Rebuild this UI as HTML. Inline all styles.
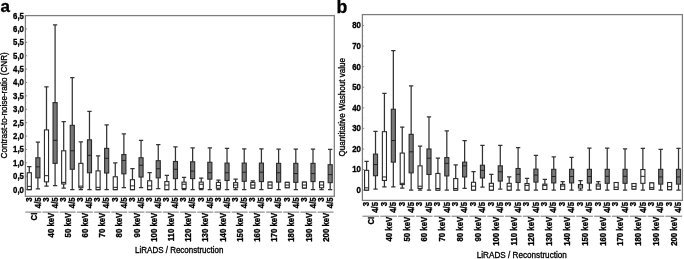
<!DOCTYPE html>
<html><head><meta charset="utf-8"><title>Figure</title>
<style>html,body{margin:0;padding:0;background:#fff}svg{display:block}text{font-family:"Liberation Sans",sans-serif;fill:#000;stroke:#000;stroke-width:.3px}.b{font-size:7.8px;font-weight:bold}.t{font-size:8px}.p{font-size:17px;font-weight:bold}</style></head>
<body>
<svg width="684" height="259" viewBox="0 0 684 259">
<rect width="684" height="259" fill="#ffffff"/>
<text x="0.6" y="12.4" class="p">a</text>
<text x="336.6" y="12.5" class="p" style="font-size:17.7px">b</text>
<rect x="25.40" y="15.60" width="308.90" height="180.70" fill="none" stroke="#7c7c7c" stroke-width="1.25"/>
<line x1="25.40" x2="27.20" y1="189.61" y2="189.61" stroke="#808080" stroke-width="0.9"/>
<text transform="translate(23.90,192.51) scale(1,1.14)" text-anchor="end" class="b">0,0</text>
<line x1="25.40" x2="26.20" y1="182.91" y2="182.91" stroke="#808080" stroke-width="0.9"/>
<line x1="25.40" x2="27.20" y1="176.22" y2="176.22" stroke="#808080" stroke-width="0.9"/>
<text transform="translate(23.90,179.12) scale(1,1.14)" text-anchor="end" class="b">0,5</text>
<line x1="25.40" x2="26.20" y1="169.53" y2="169.53" stroke="#808080" stroke-width="0.9"/>
<line x1="25.40" x2="27.20" y1="162.84" y2="162.84" stroke="#808080" stroke-width="0.9"/>
<text transform="translate(23.90,165.74) scale(1,1.14)" text-anchor="end" class="b">1,0</text>
<line x1="25.40" x2="26.20" y1="156.14" y2="156.14" stroke="#808080" stroke-width="0.9"/>
<line x1="25.40" x2="27.20" y1="149.45" y2="149.45" stroke="#808080" stroke-width="0.9"/>
<text transform="translate(23.90,152.35) scale(1,1.14)" text-anchor="end" class="b">1,5</text>
<line x1="25.40" x2="26.20" y1="142.76" y2="142.76" stroke="#808080" stroke-width="0.9"/>
<line x1="25.40" x2="27.20" y1="136.07" y2="136.07" stroke="#808080" stroke-width="0.9"/>
<text transform="translate(23.90,138.97) scale(1,1.14)" text-anchor="end" class="b">2,0</text>
<line x1="25.40" x2="26.20" y1="129.37" y2="129.37" stroke="#808080" stroke-width="0.9"/>
<line x1="25.40" x2="27.20" y1="122.68" y2="122.68" stroke="#808080" stroke-width="0.9"/>
<text transform="translate(23.90,125.58) scale(1,1.14)" text-anchor="end" class="b">2,5</text>
<line x1="25.40" x2="26.20" y1="115.99" y2="115.99" stroke="#808080" stroke-width="0.9"/>
<line x1="25.40" x2="27.20" y1="109.30" y2="109.30" stroke="#808080" stroke-width="0.9"/>
<text transform="translate(23.90,112.20) scale(1,1.14)" text-anchor="end" class="b">3,0</text>
<line x1="25.40" x2="26.20" y1="102.60" y2="102.60" stroke="#808080" stroke-width="0.9"/>
<line x1="25.40" x2="27.20" y1="95.91" y2="95.91" stroke="#808080" stroke-width="0.9"/>
<text transform="translate(23.90,98.81) scale(1,1.14)" text-anchor="end" class="b">3,5</text>
<line x1="25.40" x2="26.20" y1="89.22" y2="89.22" stroke="#808080" stroke-width="0.9"/>
<line x1="25.40" x2="27.20" y1="82.53" y2="82.53" stroke="#808080" stroke-width="0.9"/>
<text transform="translate(23.90,85.43) scale(1,1.14)" text-anchor="end" class="b">4,0</text>
<line x1="25.40" x2="26.20" y1="75.83" y2="75.83" stroke="#808080" stroke-width="0.9"/>
<line x1="25.40" x2="27.20" y1="69.14" y2="69.14" stroke="#808080" stroke-width="0.9"/>
<text transform="translate(23.90,72.04) scale(1,1.14)" text-anchor="end" class="b">4,5</text>
<line x1="25.40" x2="26.20" y1="62.45" y2="62.45" stroke="#808080" stroke-width="0.9"/>
<line x1="25.40" x2="27.20" y1="55.76" y2="55.76" stroke="#808080" stroke-width="0.9"/>
<text transform="translate(23.90,58.66) scale(1,1.14)" text-anchor="end" class="b">5,0</text>
<line x1="25.40" x2="26.20" y1="49.06" y2="49.06" stroke="#808080" stroke-width="0.9"/>
<line x1="25.40" x2="27.20" y1="42.37" y2="42.37" stroke="#808080" stroke-width="0.9"/>
<text transform="translate(23.90,45.27) scale(1,1.14)" text-anchor="end" class="b">5,5</text>
<line x1="25.40" x2="26.20" y1="35.68" y2="35.68" stroke="#808080" stroke-width="0.9"/>
<line x1="25.40" x2="27.20" y1="28.99" y2="28.99" stroke="#808080" stroke-width="0.9"/>
<text transform="translate(23.90,31.89) scale(1,1.14)" text-anchor="end" class="b">6,0</text>
<line x1="25.40" x2="26.20" y1="22.29" y2="22.29" stroke="#808080" stroke-width="0.9"/>
<line x1="25.40" x2="27.20" y1="15.60" y2="15.60" stroke="#808080" stroke-width="0.9"/>
<text transform="translate(23.90,18.50) scale(1,1.14)" text-anchor="end" class="b">6,5</text>
<path d="M29.30 166.72V172.74M29.30 189.61V189.61M27.15 166.72H31.45M27.15 189.61H31.45" stroke="#333333" stroke-width="1.25" fill="none"/>
<rect x="27.25" y="172.74" width="4.10" height="16.87" fill="#ffffff" stroke="#2a2a2a" stroke-width="1.1"/>
<line x1="27.25" x2="31.35" y1="186.39" y2="186.39" stroke="#222" stroke-width="1"/>
<text transform="translate(31.60,197.30) rotate(-90) scale(1,1.1)" text-anchor="end" class="b">3</text>
<path d="M37.90 142.22V157.75M37.90 177.83V188.80M35.75 142.22H40.05M35.75 188.80H40.05" stroke="#333333" stroke-width="1.25" fill="none"/>
<rect x="35.85" y="157.75" width="4.10" height="20.08" fill="#787878" stroke="#2a2a2a" stroke-width="1.1"/>
<line x1="35.85" x2="39.95" y1="166.85" y2="166.85" stroke="#222" stroke-width="1"/>
<text transform="translate(40.60,197.30) rotate(-90) scale(1,1.1)" text-anchor="end" class="b">4/5</text>
<path d="M46.49 86.81V129.91M46.49 181.84V186.13M44.34 86.81H48.64M44.34 186.13H48.64" stroke="#333333" stroke-width="1.25" fill="none"/>
<rect x="44.44" y="129.91" width="4.10" height="51.93" fill="#ffffff" stroke="#2a2a2a" stroke-width="1.1"/>
<line x1="44.44" x2="48.54" y1="175.69" y2="175.69" stroke="#222" stroke-width="1"/>
<text transform="translate(48.79,197.30) rotate(-90) scale(1,1.1)" text-anchor="end" class="b">3</text>
<path d="M55.09 24.97V102.60M55.09 163.37V185.59M52.94 24.97H57.24M52.94 185.59H57.24" stroke="#333333" stroke-width="1.25" fill="none"/>
<rect x="53.04" y="102.60" width="4.10" height="60.77" fill="#787878" stroke="#2a2a2a" stroke-width="1.1"/>
<line x1="53.04" x2="57.14" y1="140.35" y2="140.35" stroke="#222" stroke-width="1"/>
<text transform="translate(57.79,197.30) rotate(-90) scale(1,1.1)" text-anchor="end" class="b">4/5</text>
<path d="M63.69 121.61V150.79M63.69 183.99V188.00M61.54 121.61H65.84M61.54 188.00H65.84" stroke="#333333" stroke-width="1.25" fill="none"/>
<rect x="61.64" y="150.79" width="4.10" height="33.20" fill="#ffffff" stroke="#2a2a2a" stroke-width="1.1"/>
<line x1="61.64" x2="65.74" y1="182.38" y2="182.38" stroke="#222" stroke-width="1"/>
<text transform="translate(65.99,197.30) rotate(-90) scale(1,1.1)" text-anchor="end" class="b">3</text>
<path d="M72.28 77.71V125.36M72.28 169.26V189.61M70.13 77.71H74.44M70.13 189.61H74.44" stroke="#333333" stroke-width="1.25" fill="none"/>
<rect x="70.23" y="125.36" width="4.10" height="43.90" fill="#787878" stroke="#2a2a2a" stroke-width="1.1"/>
<line x1="70.23" x2="74.33" y1="150.79" y2="150.79" stroke="#222" stroke-width="1"/>
<text transform="translate(74.98,197.30) rotate(-90) scale(1,1.1)" text-anchor="end" class="b">4/5</text>
<path d="M80.88 141.96V163.37M80.88 187.73V189.61M78.73 141.96H83.03M78.73 189.61H83.03" stroke="#333333" stroke-width="1.25" fill="none"/>
<rect x="78.83" y="163.37" width="4.10" height="24.36" fill="#ffffff" stroke="#2a2a2a" stroke-width="1.1"/>
<line x1="78.83" x2="82.93" y1="186.13" y2="186.13" stroke="#222" stroke-width="1"/>
<text transform="translate(83.18,197.30) rotate(-90) scale(1,1.1)" text-anchor="end" class="b">3</text>
<path d="M89.48 111.44V139.81M89.48 172.74V189.61M87.33 111.44H91.63M87.33 189.61H91.63" stroke="#333333" stroke-width="1.25" fill="none"/>
<rect x="87.43" y="139.81" width="4.10" height="32.93" fill="#787878" stroke="#2a2a2a" stroke-width="1.1"/>
<line x1="87.43" x2="91.53" y1="155.34" y2="155.34" stroke="#222" stroke-width="1"/>
<text transform="translate(92.18,197.30) rotate(-90) scale(1,1.1)" text-anchor="end" class="b">4/5</text>
<path d="M98.08 155.88V170.87M98.08 189.61V189.61M95.93 155.88H100.23M95.93 189.61H100.23" stroke="#333333" stroke-width="1.25" fill="none"/>
<rect x="96.03" y="170.87" width="4.10" height="18.74" fill="#ffffff" stroke="#2a2a2a" stroke-width="1.1"/>
<line x1="96.03" x2="100.13" y1="187.33" y2="187.33" stroke="#222" stroke-width="1"/>
<text transform="translate(100.38,197.30) rotate(-90) scale(1,1.1)" text-anchor="end" class="b">3</text>
<path d="M106.67 124.82V148.38M106.67 173.01V189.61M104.52 124.82H108.82M104.52 189.61H108.82" stroke="#333333" stroke-width="1.25" fill="none"/>
<rect x="104.62" y="148.38" width="4.10" height="24.63" fill="#787878" stroke="#2a2a2a" stroke-width="1.1"/>
<line x1="104.62" x2="108.72" y1="158.29" y2="158.29" stroke="#222" stroke-width="1"/>
<text transform="translate(109.37,197.30) rotate(-90) scale(1,1.1)" text-anchor="end" class="b">4/5</text>
<path d="M115.27 162.84V176.76M115.27 189.61V189.61M113.12 162.84H117.42M113.12 189.61H117.42" stroke="#333333" stroke-width="1.25" fill="none"/>
<rect x="113.22" y="176.76" width="4.10" height="12.85" fill="#ffffff" stroke="#2a2a2a" stroke-width="1.1"/>
<line x1="113.22" x2="117.32" y1="187.33" y2="187.33" stroke="#222" stroke-width="1"/>
<text transform="translate(117.57,197.30) rotate(-90) scale(1,1.1)" text-anchor="end" class="b">3</text>
<path d="M123.87 133.93V154.54M123.87 173.81V187.73M121.72 133.93H126.02M121.72 187.73H126.02" stroke="#333333" stroke-width="1.25" fill="none"/>
<rect x="121.82" y="154.54" width="4.10" height="19.27" fill="#787878" stroke="#2a2a2a" stroke-width="1.1"/>
<line x1="121.82" x2="125.92" y1="160.43" y2="160.43" stroke="#222" stroke-width="1"/>
<text transform="translate(126.57,197.30) rotate(-90) scale(1,1.1)" text-anchor="end" class="b">4/5</text>
<path d="M132.46 168.73V179.70M132.46 189.61V189.61M130.31 168.73H134.61M130.31 189.61H134.61" stroke="#333333" stroke-width="1.25" fill="none"/>
<rect x="130.41" y="179.70" width="4.10" height="9.91" fill="#ffffff" stroke="#2a2a2a" stroke-width="1.1"/>
<line x1="130.41" x2="134.51" y1="185.86" y2="185.86" stroke="#222" stroke-width="1"/>
<text transform="translate(134.76,197.30) rotate(-90) scale(1,1.1)" text-anchor="end" class="b">3</text>
<path d="M141.06 140.35V157.75M141.06 177.03V187.73M138.91 140.35H143.21M138.91 187.73H143.21" stroke="#333333" stroke-width="1.25" fill="none"/>
<rect x="139.01" y="157.75" width="4.10" height="19.27" fill="#787878" stroke="#2a2a2a" stroke-width="1.1"/>
<line x1="139.01" x2="143.11" y1="165.25" y2="165.25" stroke="#222" stroke-width="1"/>
<text transform="translate(143.76,197.30) rotate(-90) scale(1,1.1)" text-anchor="end" class="b">4/5</text>
<path d="M149.66 172.74V180.77M149.66 189.61V189.61M147.51 172.74H151.81M147.51 189.61H151.81" stroke="#333333" stroke-width="1.25" fill="none"/>
<rect x="147.61" y="180.77" width="4.10" height="8.83" fill="#ffffff" stroke="#2a2a2a" stroke-width="1.1"/>
<line x1="147.61" x2="151.71" y1="185.86" y2="185.86" stroke="#222" stroke-width="1"/>
<text transform="translate(151.96,197.30) rotate(-90) scale(1,1.1)" text-anchor="end" class="b">3</text>
<path d="M158.25 144.63V160.70M158.25 177.83V188.54M156.10 144.63H160.41M156.10 188.54H160.41" stroke="#333333" stroke-width="1.25" fill="none"/>
<rect x="156.20" y="160.70" width="4.10" height="17.13" fill="#787878" stroke="#2a2a2a" stroke-width="1.1"/>
<line x1="156.20" x2="160.31" y1="168.73" y2="168.73" stroke="#222" stroke-width="1"/>
<text transform="translate(160.95,197.30) rotate(-90) scale(1,1.1)" text-anchor="end" class="b">4/5</text>
<path d="M166.85 175.42V181.58M166.85 189.61V189.61M164.70 175.42H169.00M164.70 189.61H169.00" stroke="#333333" stroke-width="1.25" fill="none"/>
<rect x="164.80" y="181.58" width="4.10" height="8.03" fill="#ffffff" stroke="#2a2a2a" stroke-width="1.1"/>
<line x1="164.80" x2="168.90" y1="185.06" y2="185.06" stroke="#222" stroke-width="1"/>
<text transform="translate(169.15,197.30) rotate(-90) scale(1,1.1)" text-anchor="end" class="b">3</text>
<path d="M175.45 146.77V161.50M175.45 178.63V189.61M173.30 146.77H177.60M173.30 189.61H177.60" stroke="#333333" stroke-width="1.25" fill="none"/>
<rect x="173.40" y="161.50" width="4.10" height="17.13" fill="#787878" stroke="#2a2a2a" stroke-width="1.1"/>
<line x1="173.40" x2="177.50" y1="169.26" y2="169.26" stroke="#222" stroke-width="1"/>
<text transform="translate(178.15,197.30) rotate(-90) scale(1,1.1)" text-anchor="end" class="b">4/5</text>
<path d="M184.05 177.29V182.11M184.05 188.54V189.61M181.90 177.29H186.20M181.90 189.61H186.20" stroke="#333333" stroke-width="1.25" fill="none"/>
<rect x="182.00" y="182.11" width="4.10" height="6.42" fill="#ffffff" stroke="#2a2a2a" stroke-width="1.1"/>
<line x1="182.00" x2="186.10" y1="184.25" y2="184.25" stroke="#222" stroke-width="1"/>
<text transform="translate(186.35,197.30) rotate(-90) scale(1,1.1)" text-anchor="end" class="b">3</text>
<path d="M192.64 147.85V161.77M192.64 178.63V189.61M190.49 147.85H194.79M190.49 189.61H194.79" stroke="#333333" stroke-width="1.25" fill="none"/>
<rect x="190.59" y="161.77" width="4.10" height="16.87" fill="#787878" stroke="#2a2a2a" stroke-width="1.1"/>
<line x1="190.59" x2="194.69" y1="171.14" y2="171.14" stroke="#222" stroke-width="1"/>
<text transform="translate(195.34,197.30) rotate(-90) scale(1,1.1)" text-anchor="end" class="b">4/5</text>
<path d="M201.24 178.10V182.11M201.24 188.54V189.61M199.09 178.10H203.39M199.09 189.61H203.39" stroke="#333333" stroke-width="1.25" fill="none"/>
<rect x="199.19" y="182.11" width="4.10" height="6.42" fill="#ffffff" stroke="#2a2a2a" stroke-width="1.1"/>
<line x1="199.19" x2="203.29" y1="184.25" y2="184.25" stroke="#222" stroke-width="1"/>
<text transform="translate(203.54,197.30) rotate(-90) scale(1,1.1)" text-anchor="end" class="b">3</text>
<path d="M209.84 147.85V162.30M209.84 179.17V189.61M207.69 147.85H211.99M207.69 189.61H211.99" stroke="#333333" stroke-width="1.25" fill="none"/>
<rect x="207.79" y="162.30" width="4.10" height="16.87" fill="#787878" stroke="#2a2a2a" stroke-width="1.1"/>
<line x1="207.79" x2="211.89" y1="172.74" y2="172.74" stroke="#222" stroke-width="1"/>
<text transform="translate(212.54,197.30) rotate(-90) scale(1,1.1)" text-anchor="end" class="b">4/5</text>
<path d="M218.43 180.24V182.38M218.43 188.27V189.61M216.28 180.24H220.58M216.28 189.61H220.58" stroke="#333333" stroke-width="1.25" fill="none"/>
<rect x="216.38" y="182.38" width="4.10" height="5.89" fill="#ffffff" stroke="#2a2a2a" stroke-width="1.1"/>
<line x1="216.38" x2="220.48" y1="185.59" y2="185.59" stroke="#222" stroke-width="1"/>
<text transform="translate(220.73,197.30) rotate(-90) scale(1,1.1)" text-anchor="end" class="b">3</text>
<path d="M227.03 148.38V163.10M227.03 180.51V189.61M224.88 148.38H229.18M224.88 189.61H229.18" stroke="#333333" stroke-width="1.25" fill="none"/>
<rect x="224.98" y="163.10" width="4.10" height="17.40" fill="#787878" stroke="#2a2a2a" stroke-width="1.1"/>
<line x1="224.98" x2="229.08" y1="172.74" y2="172.74" stroke="#222" stroke-width="1"/>
<text transform="translate(229.73,197.30) rotate(-90) scale(1,1.1)" text-anchor="end" class="b">4/5</text>
<path d="M235.63 179.17V182.65M235.63 187.73V189.61M233.48 179.17H237.78M233.48 189.61H237.78" stroke="#333333" stroke-width="1.25" fill="none"/>
<rect x="233.58" y="182.65" width="4.10" height="5.09" fill="#ffffff" stroke="#2a2a2a" stroke-width="1.1"/>
<line x1="233.58" x2="237.68" y1="185.06" y2="185.06" stroke="#222" stroke-width="1"/>
<text transform="translate(237.93,197.30) rotate(-90) scale(1,1.1)" text-anchor="end" class="b">3</text>
<path d="M244.22 148.92V163.10M244.22 181.31V189.61M242.07 148.92H246.38M242.07 189.61H246.38" stroke="#333333" stroke-width="1.25" fill="none"/>
<rect x="242.17" y="163.10" width="4.10" height="18.20" fill="#787878" stroke="#2a2a2a" stroke-width="1.1"/>
<line x1="242.17" x2="246.28" y1="172.21" y2="172.21" stroke="#222" stroke-width="1"/>
<text transform="translate(246.92,197.30) rotate(-90) scale(1,1.1)" text-anchor="end" class="b">4/5</text>
<path d="M252.82 180.77V182.38M252.82 188.00V188.00M250.67 180.77H254.97M250.67 188.00H254.97" stroke="#333333" stroke-width="1.25" fill="none"/>
<rect x="250.77" y="182.38" width="4.10" height="5.62" fill="#ffffff" stroke="#2a2a2a" stroke-width="1.1"/>
<line x1="250.77" x2="254.87" y1="185.06" y2="185.06" stroke="#222" stroke-width="1"/>
<text transform="translate(255.12,197.30) rotate(-90) scale(1,1.1)" text-anchor="end" class="b">3</text>
<path d="M261.42 148.92V163.10M261.42 181.58V189.61M259.27 148.92H263.57M259.27 189.61H263.57" stroke="#333333" stroke-width="1.25" fill="none"/>
<rect x="259.37" y="163.10" width="4.10" height="18.47" fill="#787878" stroke="#2a2a2a" stroke-width="1.1"/>
<line x1="259.37" x2="263.47" y1="172.21" y2="172.21" stroke="#222" stroke-width="1"/>
<text transform="translate(264.12,197.30) rotate(-90) scale(1,1.1)" text-anchor="end" class="b">4/5</text>
<path d="M270.02 182.11V182.11M270.02 188.27V188.27M267.87 182.11H272.17M267.87 188.27H272.17" stroke="#333333" stroke-width="1.25" fill="none"/>
<rect x="267.97" y="182.11" width="4.10" height="6.16" fill="#ffffff" stroke="#2a2a2a" stroke-width="1.1"/>
<line x1="267.97" x2="272.07" y1="185.06" y2="185.06" stroke="#222" stroke-width="1"/>
<text transform="translate(272.32,197.30) rotate(-90) scale(1,1.1)" text-anchor="end" class="b">3</text>
<path d="M278.61 149.18V163.37M278.61 182.11V189.61M276.46 149.18H280.76M276.46 189.61H280.76" stroke="#333333" stroke-width="1.25" fill="none"/>
<rect x="276.56" y="163.37" width="4.10" height="18.74" fill="#787878" stroke="#2a2a2a" stroke-width="1.1"/>
<line x1="276.56" x2="280.66" y1="172.74" y2="172.74" stroke="#222" stroke-width="1"/>
<text transform="translate(281.31,197.30) rotate(-90) scale(1,1.1)" text-anchor="end" class="b">4/5</text>
<path d="M287.21 182.38V182.38M287.21 187.73V187.73M285.06 182.38H289.36M285.06 187.73H289.36" stroke="#333333" stroke-width="1.25" fill="none"/>
<rect x="285.16" y="182.38" width="4.10" height="5.35" fill="#ffffff" stroke="#2a2a2a" stroke-width="1.1"/>
<line x1="285.16" x2="289.26" y1="185.06" y2="185.06" stroke="#222" stroke-width="1"/>
<text transform="translate(289.51,197.30) rotate(-90) scale(1,1.1)" text-anchor="end" class="b">3</text>
<path d="M295.81 149.18V163.37M295.81 182.38V189.61M293.66 149.18H297.96M293.66 189.61H297.96" stroke="#333333" stroke-width="1.25" fill="none"/>
<rect x="293.76" y="163.37" width="4.10" height="19.01" fill="#787878" stroke="#2a2a2a" stroke-width="1.1"/>
<line x1="293.76" x2="297.86" y1="173.55" y2="173.55" stroke="#222" stroke-width="1"/>
<text transform="translate(298.51,197.30) rotate(-90) scale(1,1.1)" text-anchor="end" class="b">4/5</text>
<path d="M304.40 182.11V182.11M304.40 188.00V188.00M302.25 182.11H306.55M302.25 188.00H306.55" stroke="#333333" stroke-width="1.25" fill="none"/>
<rect x="302.35" y="182.11" width="4.10" height="5.89" fill="#ffffff" stroke="#2a2a2a" stroke-width="1.1"/>
<line x1="302.35" x2="306.45" y1="185.06" y2="185.06" stroke="#222" stroke-width="1"/>
<text transform="translate(306.70,197.30) rotate(-90) scale(1,1.1)" text-anchor="end" class="b">3</text>
<path d="M313.00 149.18V163.37M313.00 181.58V189.61M310.85 149.18H315.15M310.85 189.61H315.15" stroke="#333333" stroke-width="1.25" fill="none"/>
<rect x="310.95" y="163.37" width="4.10" height="18.20" fill="#787878" stroke="#2a2a2a" stroke-width="1.1"/>
<line x1="310.95" x2="315.05" y1="173.55" y2="173.55" stroke="#222" stroke-width="1"/>
<text transform="translate(315.70,197.30) rotate(-90) scale(1,1.1)" text-anchor="end" class="b">4/5</text>
<path d="M321.60 181.84V181.84M321.60 187.73V189.61M319.45 181.84H323.75M319.45 189.61H323.75" stroke="#333333" stroke-width="1.25" fill="none"/>
<rect x="319.55" y="181.84" width="4.10" height="5.89" fill="#ffffff" stroke="#2a2a2a" stroke-width="1.1"/>
<line x1="319.55" x2="323.65" y1="185.06" y2="185.06" stroke="#222" stroke-width="1"/>
<text transform="translate(323.90,197.30) rotate(-90) scale(1,1.1)" text-anchor="end" class="b">3</text>
<path d="M330.19 149.45V164.71M330.19 182.65V189.61M328.05 149.45H332.34M328.05 189.61H332.34" stroke="#333333" stroke-width="1.25" fill="none"/>
<rect x="328.14" y="164.71" width="4.10" height="17.94" fill="#787878" stroke="#2a2a2a" stroke-width="1.1"/>
<line x1="328.14" x2="332.25" y1="174.62" y2="174.62" stroke="#222" stroke-width="1"/>
<text transform="translate(332.89,197.30) rotate(-90) scale(1,1.1)" text-anchor="end" class="b">4/5</text>
<line x1="25.30" x2="41.30" y1="212.10" y2="212.10" stroke="#666" stroke-width="0.9"/>
<text transform="translate(36.50,212.70) rotate(-90) scale(1,1.1)" text-anchor="end" class="b">CI</text>
<line x1="42.50" x2="58.49" y1="212.10" y2="212.10" stroke="#666" stroke-width="0.9"/>
<text transform="translate(53.69,212.70) rotate(-90) scale(1,1.1)" text-anchor="end" class="b">40 keV</text>
<line x1="59.69" x2="75.68" y1="212.10" y2="212.10" stroke="#666" stroke-width="0.9"/>
<text transform="translate(70.89,212.70) rotate(-90) scale(1,1.1)" text-anchor="end" class="b">50 keV</text>
<line x1="76.88" x2="92.88" y1="212.10" y2="212.10" stroke="#666" stroke-width="0.9"/>
<text transform="translate(88.08,212.70) rotate(-90) scale(1,1.1)" text-anchor="end" class="b">60 keV</text>
<line x1="94.08" x2="110.07" y1="212.10" y2="212.10" stroke="#666" stroke-width="0.9"/>
<text transform="translate(105.27,212.70) rotate(-90) scale(1,1.1)" text-anchor="end" class="b">70 keV</text>
<line x1="111.27" x2="127.27" y1="212.10" y2="212.10" stroke="#666" stroke-width="0.9"/>
<text transform="translate(122.47,212.70) rotate(-90) scale(1,1.1)" text-anchor="end" class="b">80 keV</text>
<line x1="128.47" x2="144.46" y1="212.10" y2="212.10" stroke="#666" stroke-width="0.9"/>
<text transform="translate(139.66,212.70) rotate(-90) scale(1,1.1)" text-anchor="end" class="b">90 keV</text>
<line x1="145.66" x2="161.65" y1="212.10" y2="212.10" stroke="#666" stroke-width="0.9"/>
<text transform="translate(156.86,212.70) rotate(-90) scale(1,1.1)" text-anchor="end" class="b">100 keV</text>
<line x1="162.85" x2="178.85" y1="212.10" y2="212.10" stroke="#666" stroke-width="0.9"/>
<text transform="translate(174.05,212.70) rotate(-90) scale(1,1.1)" text-anchor="end" class="b">110 keV</text>
<line x1="180.05" x2="196.04" y1="212.10" y2="212.10" stroke="#666" stroke-width="0.9"/>
<text transform="translate(191.24,212.70) rotate(-90) scale(1,1.1)" text-anchor="end" class="b">120 keV</text>
<line x1="197.24" x2="213.24" y1="212.10" y2="212.10" stroke="#666" stroke-width="0.9"/>
<text transform="translate(208.44,212.70) rotate(-90) scale(1,1.1)" text-anchor="end" class="b">130 keV</text>
<line x1="214.44" x2="230.43" y1="212.10" y2="212.10" stroke="#666" stroke-width="0.9"/>
<text transform="translate(225.63,212.70) rotate(-90) scale(1,1.1)" text-anchor="end" class="b">140 keV</text>
<line x1="231.63" x2="247.62" y1="212.10" y2="212.10" stroke="#666" stroke-width="0.9"/>
<text transform="translate(242.83,212.70) rotate(-90) scale(1,1.1)" text-anchor="end" class="b">150 keV</text>
<line x1="248.82" x2="264.82" y1="212.10" y2="212.10" stroke="#666" stroke-width="0.9"/>
<text transform="translate(260.02,212.70) rotate(-90) scale(1,1.1)" text-anchor="end" class="b">160 keV</text>
<line x1="266.02" x2="282.01" y1="212.10" y2="212.10" stroke="#666" stroke-width="0.9"/>
<text transform="translate(277.21,212.70) rotate(-90) scale(1,1.1)" text-anchor="end" class="b">170 keV</text>
<line x1="283.21" x2="299.21" y1="212.10" y2="212.10" stroke="#666" stroke-width="0.9"/>
<text transform="translate(294.41,212.70) rotate(-90) scale(1,1.1)" text-anchor="end" class="b">180 keV</text>
<line x1="300.41" x2="316.40" y1="212.10" y2="212.10" stroke="#666" stroke-width="0.9"/>
<text transform="translate(311.60,212.70) rotate(-90) scale(1,1.1)" text-anchor="end" class="b">190 keV</text>
<line x1="317.60" x2="333.59" y1="212.10" y2="212.10" stroke="#666" stroke-width="0.9"/>
<text transform="translate(328.80,212.70) rotate(-90) scale(1,1.1)" text-anchor="end" class="b">200 keV</text>
<text transform="translate(179.25,252.50) scale(1,1.18)" text-anchor="middle" class="t" style="font-size:8.0px">LiRADS / Reconstruction</text>
<text transform="translate(7.00,105.35) rotate(-90) scale(1,1.1)" text-anchor="middle" class="t" style="font-size:8.15px">Contrast-to-noise-ratio (CNR)</text>
<rect x="362.40" y="14.60" width="320.00" height="185.80" fill="none" stroke="#7c7c7c" stroke-width="1.25"/>
<line x1="362.40" x2="364.20" y1="190.11" y2="190.11" stroke="#808080" stroke-width="0.9"/>
<text transform="translate(360.90,193.01) scale(1,1.14)" text-anchor="end" class="b">0</text>
<line x1="362.40" x2="363.20" y1="179.82" y2="179.82" stroke="#808080" stroke-width="0.9"/>
<line x1="362.40" x2="364.20" y1="169.54" y2="169.54" stroke="#808080" stroke-width="0.9"/>
<text transform="translate(360.90,172.44) scale(1,1.14)" text-anchor="end" class="b">10</text>
<line x1="362.40" x2="363.20" y1="159.25" y2="159.25" stroke="#808080" stroke-width="0.9"/>
<line x1="362.40" x2="364.20" y1="148.96" y2="148.96" stroke="#808080" stroke-width="0.9"/>
<text transform="translate(360.90,151.86) scale(1,1.14)" text-anchor="end" class="b">20</text>
<line x1="362.40" x2="363.20" y1="138.67" y2="138.67" stroke="#808080" stroke-width="0.9"/>
<line x1="362.40" x2="364.20" y1="128.38" y2="128.38" stroke="#808080" stroke-width="0.9"/>
<text transform="translate(360.90,131.28) scale(1,1.14)" text-anchor="end" class="b">30</text>
<line x1="362.40" x2="363.20" y1="118.10" y2="118.10" stroke="#808080" stroke-width="0.9"/>
<line x1="362.40" x2="364.20" y1="107.81" y2="107.81" stroke="#808080" stroke-width="0.9"/>
<text transform="translate(360.90,110.71) scale(1,1.14)" text-anchor="end" class="b">40</text>
<line x1="362.40" x2="363.20" y1="97.52" y2="97.52" stroke="#808080" stroke-width="0.9"/>
<line x1="362.40" x2="364.20" y1="87.23" y2="87.23" stroke="#808080" stroke-width="0.9"/>
<text transform="translate(360.90,90.13) scale(1,1.14)" text-anchor="end" class="b">50</text>
<line x1="362.40" x2="363.20" y1="76.94" y2="76.94" stroke="#808080" stroke-width="0.9"/>
<line x1="362.40" x2="364.20" y1="66.66" y2="66.66" stroke="#808080" stroke-width="0.9"/>
<text transform="translate(360.90,69.56) scale(1,1.14)" text-anchor="end" class="b">60</text>
<line x1="362.40" x2="363.20" y1="56.37" y2="56.37" stroke="#808080" stroke-width="0.9"/>
<line x1="362.40" x2="364.20" y1="46.08" y2="46.08" stroke="#808080" stroke-width="0.9"/>
<text transform="translate(360.90,48.98) scale(1,1.14)" text-anchor="end" class="b">70</text>
<line x1="362.40" x2="363.20" y1="35.79" y2="35.79" stroke="#808080" stroke-width="0.9"/>
<line x1="362.40" x2="364.20" y1="25.51" y2="25.51" stroke="#808080" stroke-width="0.9"/>
<text transform="translate(360.90,28.41) scale(1,1.14)" text-anchor="end" class="b">80</text>
<path d="M366.60 161.31V170.36M366.60 190.11V190.11M364.45 161.31H368.75M364.45 190.11H368.75" stroke="#333333" stroke-width="1.25" fill="none"/>
<rect x="364.55" y="170.36" width="4.10" height="19.75" fill="#ffffff" stroke="#2a2a2a" stroke-width="1.1"/>
<line x1="364.55" x2="368.65" y1="187.85" y2="187.85" stroke="#222" stroke-width="1"/>
<text transform="translate(368.90,202.00) rotate(-90) scale(1,1.1)" text-anchor="end" class="b">3</text>
<path d="M375.51 131.27V154.10M375.51 175.71V189.08M373.36 131.27H377.66M373.36 189.08H377.66" stroke="#333333" stroke-width="1.25" fill="none"/>
<rect x="373.46" y="154.10" width="4.10" height="21.60" fill="#787878" stroke="#2a2a2a" stroke-width="1.1"/>
<line x1="373.46" x2="377.56" y1="164.60" y2="164.60" stroke="#222" stroke-width="1"/>
<text transform="translate(378.21,202.00) rotate(-90) scale(1,1.1)" text-anchor="end" class="b">4/5</text>
<path d="M384.42 93.41V131.68M384.42 180.44V186.82M382.27 93.41H386.57M382.27 186.82H386.57" stroke="#333333" stroke-width="1.25" fill="none"/>
<rect x="382.37" y="131.68" width="4.10" height="48.76" fill="#ffffff" stroke="#2a2a2a" stroke-width="1.1"/>
<line x1="382.37" x2="386.47" y1="176.94" y2="176.94" stroke="#222" stroke-width="1"/>
<text transform="translate(386.72,202.00) rotate(-90) scale(1,1.1)" text-anchor="end" class="b">3</text>
<path d="M393.34 50.61V109.25M393.34 162.13V186.82M391.19 50.61H395.49M391.19 186.82H395.49" stroke="#333333" stroke-width="1.25" fill="none"/>
<rect x="391.29" y="109.25" width="4.10" height="52.88" fill="#787878" stroke="#2a2a2a" stroke-width="1.1"/>
<line x1="391.29" x2="395.39" y1="140.52" y2="140.52" stroke="#222" stroke-width="1"/>
<text transform="translate(396.04,202.00) rotate(-90) scale(1,1.1)" text-anchor="end" class="b">4/5</text>
<path d="M402.25 127.15V153.08M402.25 184.56V188.05M400.10 127.15H404.40M400.10 188.05H404.40" stroke="#333333" stroke-width="1.25" fill="none"/>
<rect x="400.20" y="153.08" width="4.10" height="31.48" fill="#ffffff" stroke="#2a2a2a" stroke-width="1.1"/>
<line x1="400.20" x2="404.30" y1="183.32" y2="183.32" stroke="#222" stroke-width="1"/>
<text transform="translate(404.55,202.00) rotate(-90) scale(1,1.1)" text-anchor="end" class="b">3</text>
<path d="M411.16 85.79V134.35M411.16 172.83V190.11M409.01 85.79H413.31M409.01 190.11H413.31" stroke="#333333" stroke-width="1.25" fill="none"/>
<rect x="409.11" y="134.35" width="4.10" height="38.48" fill="#787878" stroke="#2a2a2a" stroke-width="1.1"/>
<line x1="409.11" x2="413.21" y1="151.84" y2="151.84" stroke="#222" stroke-width="1"/>
<text transform="translate(413.86,202.00) rotate(-90) scale(1,1.1)" text-anchor="end" class="b">4/5</text>
<path d="M420.07 146.08V165.83M420.07 188.47V190.11M417.92 146.08H422.22M417.92 190.11H422.22" stroke="#333333" stroke-width="1.25" fill="none"/>
<rect x="418.02" y="165.83" width="4.10" height="22.63" fill="#ffffff" stroke="#2a2a2a" stroke-width="1.1"/>
<line x1="418.02" x2="422.12" y1="186.20" y2="186.20" stroke="#222" stroke-width="1"/>
<text transform="translate(422.37,202.00) rotate(-90) scale(1,1.1)" text-anchor="end" class="b">3</text>
<path d="M428.98 116.86V148.96M428.98 174.47V190.11M426.83 116.86H431.13M426.83 190.11H431.13" stroke="#333333" stroke-width="1.25" fill="none"/>
<rect x="426.93" y="148.96" width="4.10" height="25.51" fill="#787878" stroke="#2a2a2a" stroke-width="1.1"/>
<line x1="426.93" x2="431.03" y1="158.22" y2="158.22" stroke="#222" stroke-width="1"/>
<text transform="translate(431.68,202.00) rotate(-90) scale(1,1.1)" text-anchor="end" class="b">4/5</text>
<path d="M437.90 158.22V173.45M437.90 190.11V190.11M435.75 158.22H440.05M435.75 190.11H440.05" stroke="#333333" stroke-width="1.25" fill="none"/>
<rect x="435.85" y="173.45" width="4.10" height="16.67" fill="#ffffff" stroke="#2a2a2a" stroke-width="1.1"/>
<line x1="435.85" x2="439.95" y1="188.47" y2="188.47" stroke="#222" stroke-width="1"/>
<text transform="translate(440.20,202.00) rotate(-90) scale(1,1.1)" text-anchor="end" class="b">3</text>
<path d="M446.81 130.85V157.60M446.81 175.91V190.11M444.66 130.85H448.96M444.66 190.11H448.96" stroke="#333333" stroke-width="1.25" fill="none"/>
<rect x="444.76" y="157.60" width="4.10" height="18.31" fill="#787878" stroke="#2a2a2a" stroke-width="1.1"/>
<line x1="444.76" x2="448.86" y1="163.36" y2="163.36" stroke="#222" stroke-width="1"/>
<text transform="translate(449.51,202.00) rotate(-90) scale(1,1.1)" text-anchor="end" class="b">4/5</text>
<path d="M455.72 164.80V178.59M455.72 190.11V190.11M453.57 164.80H457.87M453.57 190.11H457.87" stroke="#333333" stroke-width="1.25" fill="none"/>
<rect x="453.67" y="178.59" width="4.10" height="11.52" fill="#ffffff" stroke="#2a2a2a" stroke-width="1.1"/>
<line x1="453.67" x2="457.77" y1="188.47" y2="188.47" stroke="#222" stroke-width="1"/>
<text transform="translate(458.02,202.00) rotate(-90) scale(1,1.1)" text-anchor="end" class="b">3</text>
<path d="M464.63 140.52V162.13M464.63 176.94V188.47M462.48 140.52H466.78M462.48 188.47H466.78" stroke="#333333" stroke-width="1.25" fill="none"/>
<rect x="462.58" y="162.13" width="4.10" height="14.81" fill="#787878" stroke="#2a2a2a" stroke-width="1.1"/>
<line x1="462.58" x2="466.68" y1="165.83" y2="165.83" stroke="#222" stroke-width="1"/>
<text transform="translate(467.33,202.00) rotate(-90) scale(1,1.1)" text-anchor="end" class="b">4/5</text>
<path d="M473.54 171.59V182.29M473.54 190.11V190.11M471.39 171.59H475.69M471.39 190.11H475.69" stroke="#333333" stroke-width="1.25" fill="none"/>
<rect x="471.49" y="182.29" width="4.10" height="7.82" fill="#ffffff" stroke="#2a2a2a" stroke-width="1.1"/>
<line x1="471.49" x2="475.59" y1="186.20" y2="186.20" stroke="#222" stroke-width="1"/>
<text transform="translate(475.84,202.00) rotate(-90) scale(1,1.1)" text-anchor="end" class="b">3</text>
<path d="M482.46 145.46V165.22M482.46 177.97V187.23M480.31 145.46H484.61M480.31 187.23H484.61" stroke="#333333" stroke-width="1.25" fill="none"/>
<rect x="480.41" y="165.22" width="4.10" height="12.76" fill="#787878" stroke="#2a2a2a" stroke-width="1.1"/>
<line x1="480.41" x2="484.51" y1="170.36" y2="170.36" stroke="#222" stroke-width="1"/>
<text transform="translate(485.16,202.00) rotate(-90) scale(1,1.1)" text-anchor="end" class="b">4/5</text>
<path d="M491.37 174.47V183.32M491.37 190.11V190.11M489.22 174.47H493.52M489.22 190.11H493.52" stroke="#333333" stroke-width="1.25" fill="none"/>
<rect x="489.32" y="183.32" width="4.10" height="6.79" fill="#ffffff" stroke="#2a2a2a" stroke-width="1.1"/>
<line x1="489.32" x2="493.42" y1="186.20" y2="186.20" stroke="#222" stroke-width="1"/>
<text transform="translate(493.67,202.00) rotate(-90) scale(1,1.1)" text-anchor="end" class="b">3</text>
<path d="M500.28 145.46V165.83M500.28 181.06V189.08M498.13 145.46H502.43M498.13 189.08H502.43" stroke="#333333" stroke-width="1.25" fill="none"/>
<rect x="498.23" y="165.83" width="4.10" height="15.23" fill="#787878" stroke="#2a2a2a" stroke-width="1.1"/>
<line x1="498.23" x2="502.33" y1="171.80" y2="171.80" stroke="#222" stroke-width="1"/>
<text transform="translate(502.98,202.00) rotate(-90) scale(1,1.1)" text-anchor="end" class="b">4/5</text>
<path d="M509.19 176.94V183.32M509.19 190.11V190.11M507.04 176.94H511.34M507.04 190.11H511.34" stroke="#333333" stroke-width="1.25" fill="none"/>
<rect x="507.14" y="183.32" width="4.10" height="6.79" fill="#ffffff" stroke="#2a2a2a" stroke-width="1.1"/>
<line x1="507.14" x2="511.24" y1="186.20" y2="186.20" stroke="#222" stroke-width="1"/>
<text transform="translate(511.49,202.00) rotate(-90) scale(1,1.1)" text-anchor="end" class="b">3</text>
<path d="M518.10 147.73V168.51M518.10 182.50V190.11M515.95 147.73H520.25M515.95 190.11H520.25" stroke="#333333" stroke-width="1.25" fill="none"/>
<rect x="516.05" y="168.51" width="4.10" height="13.99" fill="#787878" stroke="#2a2a2a" stroke-width="1.1"/>
<line x1="516.05" x2="520.15" y1="174.27" y2="174.27" stroke="#222" stroke-width="1"/>
<text transform="translate(520.80,202.00) rotate(-90) scale(1,1.1)" text-anchor="end" class="b">4/5</text>
<path d="M527.02 178.38V183.53M527.02 190.11V190.11M524.87 178.38H529.17M524.87 190.11H529.17" stroke="#333333" stroke-width="1.25" fill="none"/>
<rect x="524.97" y="183.53" width="4.10" height="6.58" fill="#ffffff" stroke="#2a2a2a" stroke-width="1.1"/>
<line x1="524.97" x2="529.07" y1="185.38" y2="185.38" stroke="#222" stroke-width="1"/>
<text transform="translate(529.32,202.00) rotate(-90) scale(1,1.1)" text-anchor="end" class="b">3</text>
<path d="M535.93 155.34V169.12M535.93 182.09V190.11M533.78 155.34H538.08M533.78 190.11H538.08" stroke="#333333" stroke-width="1.25" fill="none"/>
<rect x="533.88" y="169.12" width="4.10" height="12.96" fill="#787878" stroke="#2a2a2a" stroke-width="1.1"/>
<line x1="533.88" x2="537.98" y1="175.09" y2="175.09" stroke="#222" stroke-width="1"/>
<text transform="translate(538.63,202.00) rotate(-90) scale(1,1.1)" text-anchor="end" class="b">4/5</text>
<path d="M544.84 179.41V184.15M544.84 189.49V189.49M542.69 179.41H546.99M542.69 189.49H546.99" stroke="#333333" stroke-width="1.25" fill="none"/>
<rect x="542.79" y="184.15" width="4.10" height="5.35" fill="#ffffff" stroke="#2a2a2a" stroke-width="1.1"/>
<line x1="542.79" x2="546.89" y1="185.38" y2="185.38" stroke="#222" stroke-width="1"/>
<text transform="translate(547.14,202.00) rotate(-90) scale(1,1.1)" text-anchor="end" class="b">3</text>
<path d="M553.75 156.98V169.33M553.75 182.91V190.11M551.60 156.98H555.90M551.60 190.11H555.90" stroke="#333333" stroke-width="1.25" fill="none"/>
<rect x="551.70" y="169.33" width="4.10" height="13.58" fill="#787878" stroke="#2a2a2a" stroke-width="1.1"/>
<line x1="551.70" x2="555.80" y1="176.53" y2="176.53" stroke="#222" stroke-width="1"/>
<text transform="translate(556.45,202.00) rotate(-90) scale(1,1.1)" text-anchor="end" class="b">4/5</text>
<path d="M562.66 181.68V184.35M562.66 189.49V189.49M560.51 181.68H564.81M560.51 189.49H564.81" stroke="#333333" stroke-width="1.25" fill="none"/>
<rect x="560.61" y="184.35" width="4.10" height="5.14" fill="#ffffff" stroke="#2a2a2a" stroke-width="1.1"/>
<line x1="560.61" x2="564.71" y1="186.00" y2="186.00" stroke="#222" stroke-width="1"/>
<text transform="translate(564.96,202.00) rotate(-90) scale(1,1.1)" text-anchor="end" class="b">3</text>
<path d="M571.58 157.40V169.33M571.58 182.91V190.11M569.43 157.40H573.73M569.43 190.11H573.73" stroke="#333333" stroke-width="1.25" fill="none"/>
<rect x="569.53" y="169.33" width="4.10" height="13.58" fill="#787878" stroke="#2a2a2a" stroke-width="1.1"/>
<line x1="569.53" x2="573.63" y1="176.53" y2="176.53" stroke="#222" stroke-width="1"/>
<text transform="translate(574.28,202.00) rotate(-90) scale(1,1.1)" text-anchor="end" class="b">4/5</text>
<path d="M580.49 180.65V184.56M580.49 188.05V190.11M578.34 180.65H582.64M578.34 190.11H582.64" stroke="#333333" stroke-width="1.25" fill="none"/>
<rect x="578.44" y="184.56" width="4.10" height="3.50" fill="#ffffff" stroke="#2a2a2a" stroke-width="1.1"/>
<line x1="578.44" x2="582.54" y1="186.00" y2="186.00" stroke="#222" stroke-width="1"/>
<text transform="translate(582.79,202.00) rotate(-90) scale(1,1.1)" text-anchor="end" class="b">3</text>
<path d="M589.40 148.14V169.33M589.40 183.12V190.11M587.25 148.14H591.55M587.25 190.11H591.55" stroke="#333333" stroke-width="1.25" fill="none"/>
<rect x="587.35" y="169.33" width="4.10" height="13.79" fill="#787878" stroke="#2a2a2a" stroke-width="1.1"/>
<line x1="587.35" x2="591.45" y1="176.53" y2="176.53" stroke="#222" stroke-width="1"/>
<text transform="translate(592.10,202.00) rotate(-90) scale(1,1.1)" text-anchor="end" class="b">4/5</text>
<path d="M598.31 181.68V184.15M598.31 189.08V189.08M596.16 181.68H600.46M596.16 189.08H600.46" stroke="#333333" stroke-width="1.25" fill="none"/>
<rect x="596.26" y="184.15" width="4.10" height="4.94" fill="#ffffff" stroke="#2a2a2a" stroke-width="1.1"/>
<line x1="596.26" x2="600.36" y1="186.00" y2="186.00" stroke="#222" stroke-width="1"/>
<text transform="translate(600.61,202.00) rotate(-90) scale(1,1.1)" text-anchor="end" class="b">3</text>
<path d="M607.22 148.14V169.33M607.22 183.32V190.11M605.07 148.14H609.37M605.07 190.11H609.37" stroke="#333333" stroke-width="1.25" fill="none"/>
<rect x="605.17" y="169.33" width="4.10" height="13.99" fill="#787878" stroke="#2a2a2a" stroke-width="1.1"/>
<line x1="605.17" x2="609.27" y1="176.33" y2="176.33" stroke="#222" stroke-width="1"/>
<text transform="translate(609.92,202.00) rotate(-90) scale(1,1.1)" text-anchor="end" class="b">4/5</text>
<path d="M616.14 182.50V182.50M616.14 189.49V189.49M613.99 182.50H618.29M613.99 189.49H618.29" stroke="#333333" stroke-width="1.25" fill="none"/>
<rect x="614.09" y="182.50" width="4.10" height="7.00" fill="#ffffff" stroke="#2a2a2a" stroke-width="1.1"/>
<line x1="614.09" x2="618.19" y1="187.23" y2="187.23" stroke="#222" stroke-width="1"/>
<text transform="translate(618.44,202.00) rotate(-90) scale(1,1.1)" text-anchor="end" class="b">3</text>
<path d="M625.05 148.96V169.33M625.05 183.32V190.11M622.90 148.96H627.20M622.90 190.11H627.20" stroke="#333333" stroke-width="1.25" fill="none"/>
<rect x="623.00" y="169.33" width="4.10" height="13.99" fill="#787878" stroke="#2a2a2a" stroke-width="1.1"/>
<line x1="623.00" x2="627.10" y1="176.33" y2="176.33" stroke="#222" stroke-width="1"/>
<text transform="translate(627.75,202.00) rotate(-90) scale(1,1.1)" text-anchor="end" class="b">4/5</text>
<path d="M633.96 183.53V183.53M633.96 189.08V189.08M631.81 183.53H636.11M631.81 189.08H636.11" stroke="#333333" stroke-width="1.25" fill="none"/>
<rect x="631.91" y="183.53" width="4.10" height="5.56" fill="#ffffff" stroke="#2a2a2a" stroke-width="1.1"/>
<line x1="631.91" x2="636.01" y1="186.41" y2="186.41" stroke="#222" stroke-width="1"/>
<text transform="translate(636.26,202.00) rotate(-90) scale(1,1.1)" text-anchor="end" class="b">3</text>
<path d="M642.87 148.34V169.54M642.87 183.32V190.11M640.72 148.34H645.02M640.72 190.11H645.02" stroke="#333333" stroke-width="1.25" fill="none"/>
<rect x="640.82" y="169.54" width="4.10" height="13.79" fill="#ffffff" stroke="#2a2a2a" stroke-width="1.1"/>
<line x1="640.82" x2="644.92" y1="176.33" y2="176.33" stroke="#222" stroke-width="1"/>
<text transform="translate(645.57,202.00) rotate(-90) scale(1,1.1)" text-anchor="end" class="b">4/5</text>
<path d="M651.78 182.91V182.91M651.78 189.29V189.29M649.63 182.91H653.93M649.63 189.29H653.93" stroke="#333333" stroke-width="1.25" fill="none"/>
<rect x="649.73" y="182.91" width="4.10" height="6.38" fill="#ffffff" stroke="#2a2a2a" stroke-width="1.1"/>
<line x1="649.73" x2="653.83" y1="187.64" y2="187.64" stroke="#222" stroke-width="1"/>
<text transform="translate(654.08,202.00) rotate(-90) scale(1,1.1)" text-anchor="end" class="b">3</text>
<path d="M660.70 149.37V169.33M660.70 184.15V190.11M658.55 149.37H662.85M658.55 190.11H662.85" stroke="#333333" stroke-width="1.25" fill="none"/>
<rect x="658.65" y="169.33" width="4.10" height="14.81" fill="#787878" stroke="#2a2a2a" stroke-width="1.1"/>
<line x1="658.65" x2="662.75" y1="176.94" y2="176.94" stroke="#222" stroke-width="1"/>
<text transform="translate(663.40,202.00) rotate(-90) scale(1,1.1)" text-anchor="end" class="b">4/5</text>
<path d="M669.61 182.50V182.50M669.61 189.70V189.70M667.46 182.50H671.76M667.46 189.70H671.76" stroke="#333333" stroke-width="1.25" fill="none"/>
<rect x="667.56" y="182.50" width="4.10" height="7.20" fill="#ffffff" stroke="#2a2a2a" stroke-width="1.1"/>
<line x1="667.56" x2="671.66" y1="186.61" y2="186.61" stroke="#222" stroke-width="1"/>
<text transform="translate(671.91,202.00) rotate(-90) scale(1,1.1)" text-anchor="end" class="b">3</text>
<path d="M678.52 148.34V169.33M678.52 184.15V190.11M676.37 148.34H680.67M676.37 190.11H680.67" stroke="#333333" stroke-width="1.25" fill="none"/>
<rect x="676.47" y="169.33" width="4.10" height="14.81" fill="#787878" stroke="#2a2a2a" stroke-width="1.1"/>
<line x1="676.47" x2="680.57" y1="176.94" y2="176.94" stroke="#222" stroke-width="1"/>
<text transform="translate(681.22,202.00) rotate(-90) scale(1,1.1)" text-anchor="end" class="b">4/5</text>
<line x1="362.44" x2="379.07" y1="216.20" y2="216.20" stroke="#666" stroke-width="0.9"/>
<text transform="translate(373.96,216.80) rotate(-90) scale(1,1.1)" text-anchor="end" class="b">CI</text>
<line x1="380.27" x2="396.89" y1="216.20" y2="216.20" stroke="#666" stroke-width="0.9"/>
<text transform="translate(391.78,216.80) rotate(-90) scale(1,1.1)" text-anchor="end" class="b">40 keV</text>
<line x1="398.09" x2="414.72" y1="216.20" y2="216.20" stroke="#666" stroke-width="0.9"/>
<text transform="translate(409.60,216.80) rotate(-90) scale(1,1.1)" text-anchor="end" class="b">50 keV</text>
<line x1="415.92" x2="432.54" y1="216.20" y2="216.20" stroke="#666" stroke-width="0.9"/>
<text transform="translate(427.43,216.80) rotate(-90) scale(1,1.1)" text-anchor="end" class="b">60 keV</text>
<line x1="433.74" x2="450.36" y1="216.20" y2="216.20" stroke="#666" stroke-width="0.9"/>
<text transform="translate(445.25,216.80) rotate(-90) scale(1,1.1)" text-anchor="end" class="b">70 keV</text>
<line x1="451.56" x2="468.19" y1="216.20" y2="216.20" stroke="#666" stroke-width="0.9"/>
<text transform="translate(463.08,216.80) rotate(-90) scale(1,1.1)" text-anchor="end" class="b">80 keV</text>
<line x1="469.39" x2="486.01" y1="216.20" y2="216.20" stroke="#666" stroke-width="0.9"/>
<text transform="translate(480.90,216.80) rotate(-90) scale(1,1.1)" text-anchor="end" class="b">90 keV</text>
<line x1="487.21" x2="503.84" y1="216.20" y2="216.20" stroke="#666" stroke-width="0.9"/>
<text transform="translate(498.72,216.80) rotate(-90) scale(1,1.1)" text-anchor="end" class="b">100 keV</text>
<line x1="505.04" x2="521.66" y1="216.20" y2="216.20" stroke="#666" stroke-width="0.9"/>
<text transform="translate(516.55,216.80) rotate(-90) scale(1,1.1)" text-anchor="end" class="b">110 keV</text>
<line x1="522.86" x2="539.48" y1="216.20" y2="216.20" stroke="#666" stroke-width="0.9"/>
<text transform="translate(534.37,216.80) rotate(-90) scale(1,1.1)" text-anchor="end" class="b">120 keV</text>
<line x1="540.68" x2="557.31" y1="216.20" y2="216.20" stroke="#666" stroke-width="0.9"/>
<text transform="translate(552.20,216.80) rotate(-90) scale(1,1.1)" text-anchor="end" class="b">130 keV</text>
<line x1="558.51" x2="575.13" y1="216.20" y2="216.20" stroke="#666" stroke-width="0.9"/>
<text transform="translate(570.02,216.80) rotate(-90) scale(1,1.1)" text-anchor="end" class="b">140 keV</text>
<line x1="576.33" x2="592.96" y1="216.20" y2="216.20" stroke="#666" stroke-width="0.9"/>
<text transform="translate(587.84,216.80) rotate(-90) scale(1,1.1)" text-anchor="end" class="b">150 keV</text>
<line x1="594.16" x2="610.78" y1="216.20" y2="216.20" stroke="#666" stroke-width="0.9"/>
<text transform="translate(605.67,216.80) rotate(-90) scale(1,1.1)" text-anchor="end" class="b">160 keV</text>
<line x1="611.98" x2="628.60" y1="216.20" y2="216.20" stroke="#666" stroke-width="0.9"/>
<text transform="translate(623.49,216.80) rotate(-90) scale(1,1.1)" text-anchor="end" class="b">170 keV</text>
<line x1="629.80" x2="646.43" y1="216.20" y2="216.20" stroke="#666" stroke-width="0.9"/>
<text transform="translate(641.32,216.80) rotate(-90) scale(1,1.1)" text-anchor="end" class="b">180 keV</text>
<line x1="647.63" x2="664.25" y1="216.20" y2="216.20" stroke="#666" stroke-width="0.9"/>
<text transform="translate(659.14,216.80) rotate(-90) scale(1,1.1)" text-anchor="end" class="b">190 keV</text>
<line x1="665.45" x2="682.08" y1="216.20" y2="216.20" stroke="#666" stroke-width="0.9"/>
<text transform="translate(676.96,216.80) rotate(-90) scale(1,1.1)" text-anchor="end" class="b">200 keV</text>
<text transform="translate(521.80,258.30) scale(1,1.18)" text-anchor="middle" class="t" style="font-size:8.15px">LiRADS / Reconstruction</text>
<text transform="translate(344.90,107.20) rotate(-90) scale(1,1.1)" text-anchor="middle" class="t" style="font-size:8.1px">Quantitative Washout value</text>
</svg>
</body></html>
